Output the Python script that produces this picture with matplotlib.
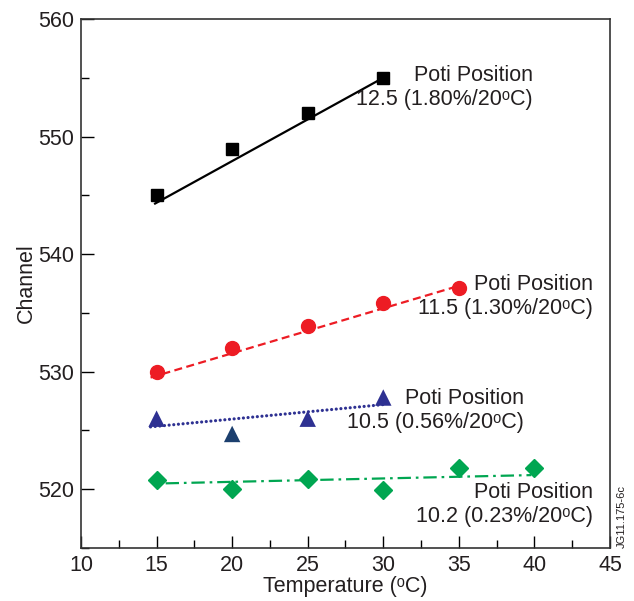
import matplotlib
matplotlib.use("Agg")
import matplotlib.pyplot as plt
from matplotlib.ticker import MultipleLocator

plt.rcParams['font.family'] = ['Liberation Sans', 'DejaVu Sans']

# Données
temp = [15, 20, 25, 30, 35, 40]

ch_12_5 = [545.0, 548.9, 552.0, 555.0]
ch_11_5 = [530.0, 532.0, 533.9, 535.8, 537.1]
ch_10_5 = [526.0, 524.7, 526.0, 527.8]
ch_10_2 = [520.8, 520.0, 520.9, 519.9, 521.8, 521.8]

# Droites de régression (début / fin)
fit_x_12_5 = [14.9, 30.0]
fit_y_12_5 = [544.3, 555.0]
fit_x_11_5 = [14.6, 35.0]
fit_y_11_5 = [529.5, 537.3]
fit_x_10_5 = [14.6, 30.0]
fit_y_10_5 = [525.3, 527.2]
fit_x_10_2 = [15.6, 39.8]
fit_y_10_2 = [520.5, 521.2]

labels = [
    "Poti Position\n12.5 (1.80%/20ᵒC)",
    "Poti Position\n11.5 (1.30%/20ᵒC)",
    "Poti Position\n10.5 (0.56%/20ᵒC)",
    "Poti Position\n10.2 (0.23%/20ᵒC)",
]
label_x = [39.9, 43.9, 39.3, 43.9]
label_y = [554.2, 536.4, 526.7, 518.7]

black = "#000000"
red = "#ed1c24"
blue = "#2e3192"
navy = "#1c3f6e"
green = "#00a651"
text_col = "#231f20"

fig = plt.figure(figsize=(6.34, 6.01), dpi=100)
ax = fig.add_axes([0.1278, 0.0882, 0.8343, 0.8802])

# Courbes
ax.plot(fit_x_12_5, fit_y_12_5, color=black, lw=1.6, ls="-")
ax.plot(temp[:4], ch_12_5, ls="none", marker="s", ms=9, color=black)

ax.plot(fit_x_11_5, fit_y_11_5, color=red, lw=1.6, ls=(0, (3.6, 2.0)))
ax.plot(temp[:5], ch_11_5, ls="none", marker="o", ms=10, color=red)

ax.plot(fit_x_10_5, fit_y_10_5, color=blue, lw=2.3, ls=(0, (0.01, 1.45)),
        dash_capstyle="round")
ax.scatter(temp[:4], ch_10_5, marker="^", s=140,
           c=[blue, navy, blue, blue], zorder=3, linewidths=0)

ax.plot(fit_x_10_2, fit_y_10_2, color=green, lw=1.6, ls=(0, (6, 2.2, 1.2, 2.2)))
ax.plot(temp, ch_10_2, ls="none", marker="D", ms=9, color=green)

for txt, x, y in zip(labels, label_x, label_y):
    ax.text(x, y, txt, ha="right", va="center", fontsize=15.5,
            linespacing=1.2, color=text_col)

ax.set_xlim(10, 45)
ax.set_ylim(515, 560)
ax.xaxis.set_major_locator(MultipleLocator(5))
ax.xaxis.set_minor_locator(MultipleLocator(2.5))
ax.yaxis.set_major_locator(MultipleLocator(10))
ax.yaxis.set_minor_locator(MultipleLocator(5))
ax.tick_params(which="both", direction="in", labelsize=15.5, width=1.0,
               pad=5, labelcolor=text_col)
ax.tick_params(which="major", length=9)
ax.tick_params(which="minor", length=6)
ax.tick_params(axis="y", which="both", right=False)
ax.tick_params(axis="x", which="both", top=False)

for s in ax.spines.values():
    s.set_linewidth(1.2)
    s.set_color("#333333")

ax.set_xlabel("Temperature (ᵒC)", fontsize=15.5, labelpad=0, color=text_col)
ax.set_ylabel("Channel", fontsize=15.5, labelpad=1, color=text_col)

fig.text(0.981, 0.0882, "JG11.175-6c", rotation=90, fontsize=8,
         ha="center", va="bottom", color=text_col)

fig.savefig("out.png", dpi=100)
